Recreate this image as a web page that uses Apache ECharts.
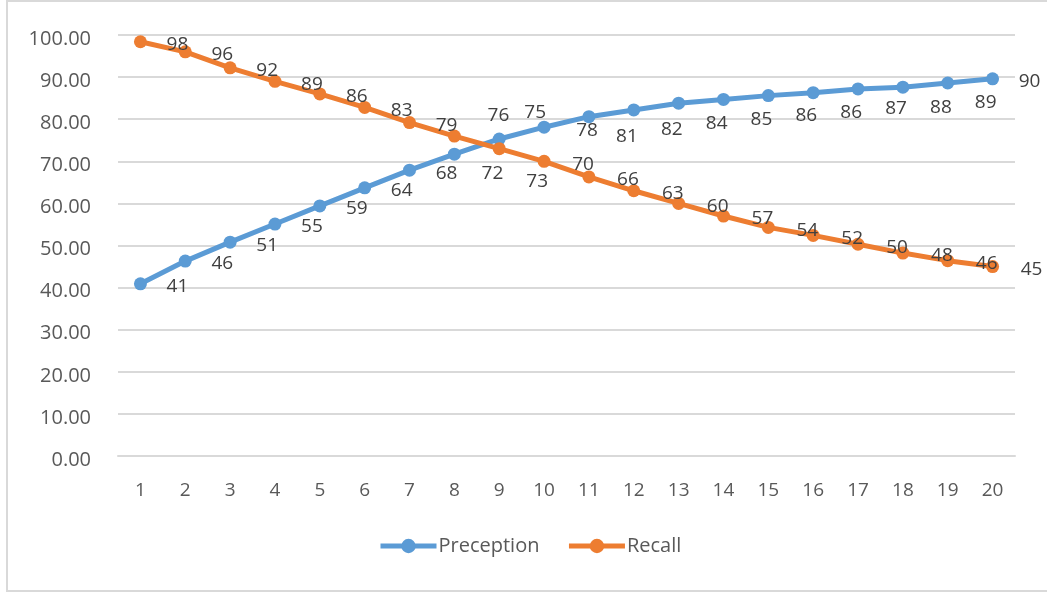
<!DOCTYPE html>
<html>
<head>
<meta charset="utf-8">
<script src="https://cdn.jsdelivr.net/npm/echarts@6/dist/echarts.min.js"></script>
<style>
  html, body { margin: 0; padding: 0; background: #fff; overflow: hidden; }
  #frame { position: absolute; left: 6px; top: 0px; width: 1100px; height: 588px; border: 2px solid #d9d9d9; box-sizing: content-box; }
  #chart { position: absolute; left: 0; top: 0; width: 1047px; height: 592px; }
</style>
</head>
<body>
<div id="frame"></div>
<div id="chart"></div>
<script>
// ---- data ----
const categories = ['1','2','3','4','5','6','7','8','9','10','11','12','13','14','15','16','17','18','19','20'];
const preceptionValues = [40.9, 46.3, 50.8, 55.1, 59.4, 63.7, 67.9, 71.7, 75.3, 78.1, 80.6, 82.2, 83.8, 84.7, 85.6, 86.3, 87.2, 87.6, 88.6, 89.6];
const recallValues = [98.4, 96.0, 92.2, 89.0, 86.0, 82.8, 79.2, 76.0, 73.0, 70.0, 66.3, 63.0, 60.0, 57.0, 54.3, 52.4, 50.3, 48.2, 46.4, 45.0];
const seriesNames = ['Preception', 'Recall'];
const yTicks = { min: 0, max: 100, step: 10 };

// ---- label placement (style, not data) ----
function precOffset(i) {
  if (i === 7) return [38, 19];
  if (i === 8) return [36, -26];
  if (i === 9) return [43, 3];
  if (i >= 10 && i <= 18) return [38, 20];
  return [37, 3];
}
function recallOffset(i) {
  if (i === 7) return [44, -20];
  if (i === 8) return [38, 33];
  if (i >= 9) return [39, 3];
  return [37, 3];
}
function buildData(vals, offFn) {
  return vals.map((v, i) => ({ value: v, label: { offset: offFn(i) } }));
}

const FONT = 'Open Sans';
const chart = echarts.init(document.getElementById('chart'), null, { renderer: 'canvas' });
const labelCommon = {
  show: true,
  position: 'inside',
  align: 'center',
  verticalAlign: 'middle',
  color: '#404040',
  fontFamily: FONT,
  fontSize: 19,
  formatter: p => String(Math.round(p.value))
};
chart.setOption({
  animation: false,
  backgroundColor: 'transparent',
  grid: { left: 118, right: 32, top: 35, bottom: 136, containLabel: false },
  legend: {
    data: seriesNames,
    left: 373,
    top: 531,
    itemWidth: 56,
    itemHeight: 18,
    itemGap: 27,
    lineStyle: { width: 5 },
    textStyle: { fontFamily: FONT, fontSize: 20, color: '#595959', padding: [0, 0, 0, -3] }
  },
  xAxis: {
    type: 'category',
    data: categories,
    boundaryGap: true,
    axisLine: { show: true, lineStyle: { color: '#d9d9d9', width: 2 } },
    axisTick: { show: false },
    axisLabel: { margin: 25, fontFamily: FONT, fontSize: 19, color: '#595959' }
  },
  yAxis: {
    type: 'value',
    min: yTicks.min,
    max: yTicks.max,
    interval: yTicks.step,
    axisLine: { show: false },
    axisTick: { show: false },
    splitLine: { lineStyle: { color: '#d9d9d9', width: 2 } },
    axisLabel: {
      margin: 27,
      fontFamily: FONT, fontSize: 20, color: '#595959',
      verticalAlign: 'top',
      lineHeight: 20,
      padding: [-6, 0, 0, 0],
      formatter: v => v.toFixed(2)
    }
  },
  series: [
    {
      name: seriesNames[0],
      type: 'line',
      data: buildData(preceptionValues, precOffset),
      symbol: 'circle',
      symbolSize: 13,
      lineStyle: { width: 5, color: '#5B9BD5' },
      itemStyle: { color: '#5B9BD5' },
      label: labelCommon,
      z: 2
    },
    {
      name: seriesNames[1],
      type: 'line',
      data: buildData(recallValues, recallOffset),
      symbol: 'circle',
      symbolSize: 13,
      lineStyle: { width: 5, color: '#ED7D31' },
      itemStyle: { color: '#ED7D31' },
      label: labelCommon,
      z: 3
    }
  ]
});
</script>
</body>
</html>
